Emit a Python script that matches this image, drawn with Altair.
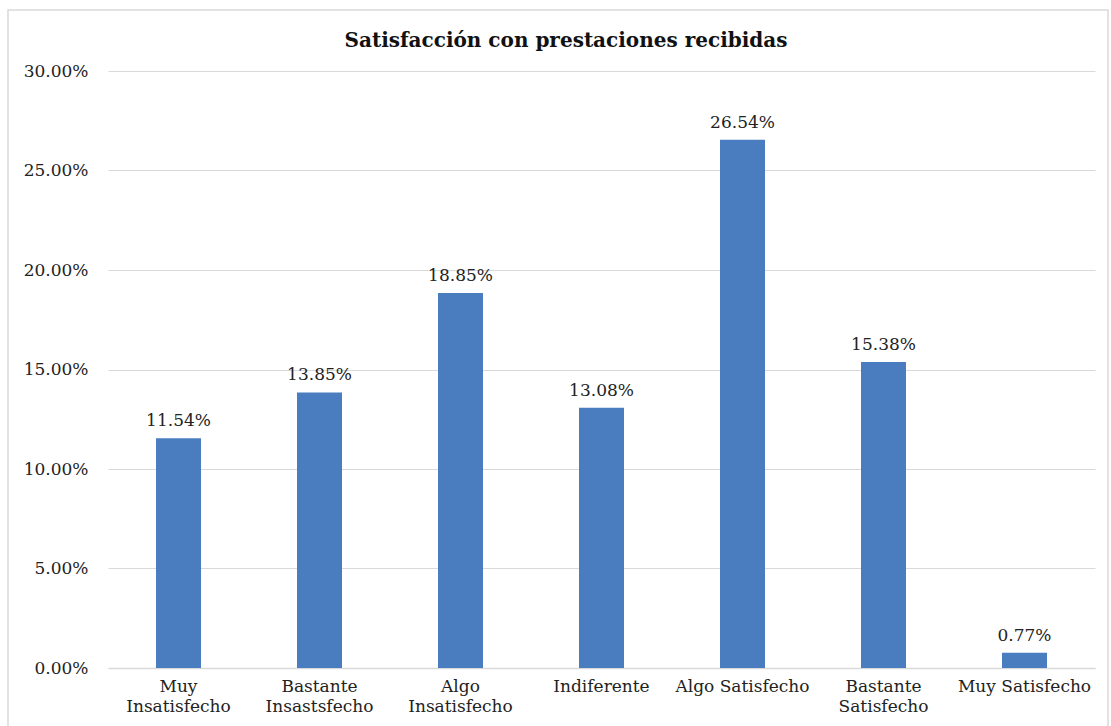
import altair as alt
import pandas as pd

categories = ["Muy\nInsatisfecho", "Bastante\nInsastsfecho", "Algo\nInsatisfecho",
              "Indiferente", "Algo Satisfecho", "Bastante\nSatisfecho", "Muy Satisfecho"]
values = [0.1154, 0.1385, 0.1885, 0.1308, 0.2654, 0.1538, 0.0077]
y_ticks = [0, 0.05, 0.10, 0.15, 0.20, 0.25, 0.30]
title_text = "Satisfacción con prestaciones recibidas"

df = pd.DataFrame({"cat": categories, "val": values})

FONT = "DejaVu Serif"
W, H = 987, 597

x = alt.X("cat:N", sort=categories, title=None,
          scale=alt.Scale(paddingInner=0.68, paddingOuter=0.34),
          axis=alt.Axis(labelExpr="split(datum.label, '\\n')", labelAngle=0,
                        labelFont=FONT, labelFontSize=17, labelColor="#222222",
                        labelPadding=10, labelLineHeight=20, ticks=False,
                        domainColor="#d9d9d9", domainWidth=1.5, grid=False))
y = alt.Y("val:Q", title=None,
          scale=alt.Scale(domain=[0, 0.30], nice=False),
          axis=alt.Axis(values=y_ticks, format=".2%", labelFont=FONT,
                        labelFontSize=17, labelColor="#222222", labelPadding=20,
                        ticks=False, domain=False, gridColor="#d9d9d9",
                        gridWidth=1.2))

bars = alt.Chart(df).mark_bar(color="#4a7dc0", size=45).encode(x=x, y=y)
labels = alt.Chart(df).mark_text(font=FONT, fontSize=17, color="#222222",
                                 baseline="bottom", dy=-8).encode(
    x=alt.X("cat:N", sort=categories), y="val:Q", text=alt.Text("val:Q", format=".2%"))

one = pd.DataFrame({"t": [title_text]})
border = alt.Chart(one).mark_rect(
    fill=None, stroke="#d9d9d9", strokeWidth=1.5).encode(
    x=alt.value(-100), x2=alt.value(1000), y=alt.value(-61), y2=alt.value(660))
title = alt.Chart(one).mark_text(font=FONT, fontSize=20, fontWeight="bold",
                                 color="#111111", baseline="alphabetic",
                                 align="center").encode(
    x=alt.value(458), y=alt.value(-24), text="t:N")

chart = alt.layer(border, bars, labels, title).properties(
    width=W, height=H,
    autosize=alt.AutoSizeParams(type="none"),
    padding={"left": 108, "top": 71, "right": 16, "bottom": 58},
    background="white",
).configure_view(stroke=None)

chart.save("out.html", embed_options={"renderer": "svg", "actions": False})
